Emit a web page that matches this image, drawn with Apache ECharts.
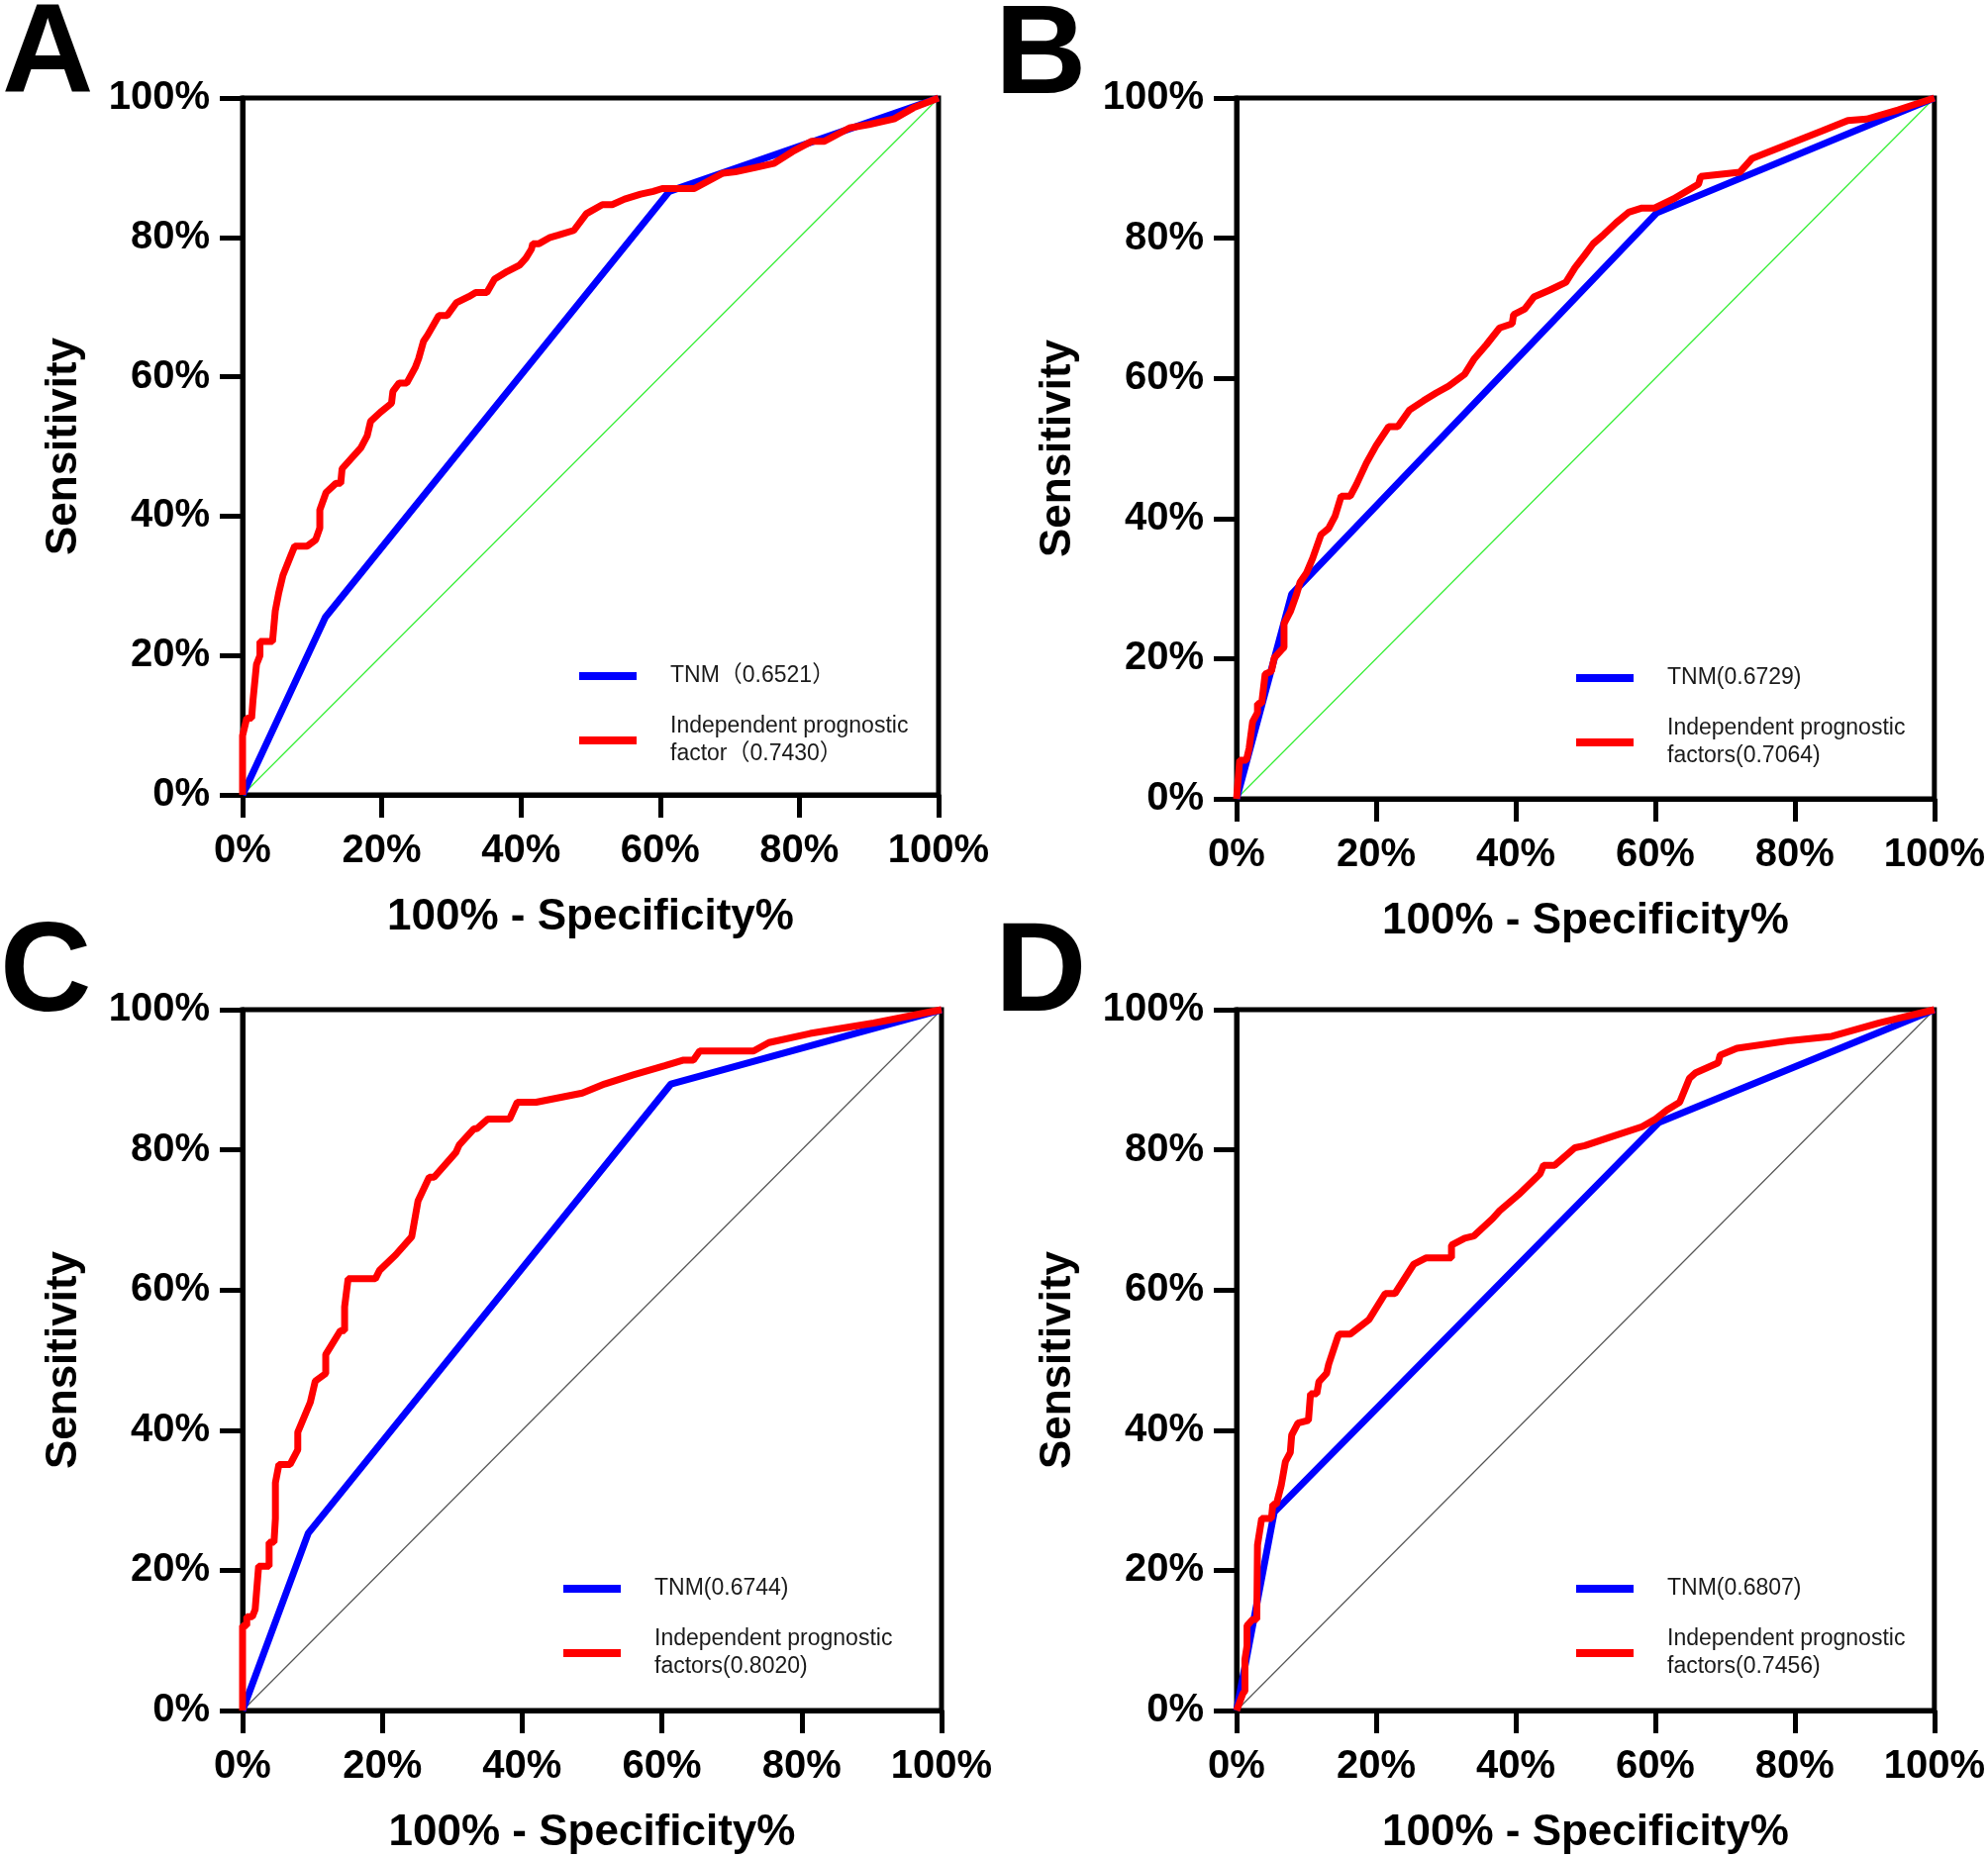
<!DOCTYPE html>
<html><head><meta charset="utf-8">
<script src="https://cdn.jsdelivr.net/npm/echarts@6/dist/echarts.min.js"></script>
<style>html,body{margin:0;padding:0;background:#fff}#c{width:2008px;height:1877px}</style>
</head><body><div id="c"></div>
<script>
// ---------- data (percent) ----------
const tickLabels = ['0%', '20%', '40%', '60%', '80%', '100%'];
const panelLetters = ['A', 'B', 'C', 'D'];
const xTitle = '100% - Specificity%';
const yTitle = 'Sensitivity';

const tnmNames = ['TNM（0.6521）', 'TNM(0.6729)', 'TNM(0.6744)', 'TNM(0.6807)'];
const ipfNames = ['Independent prognostic\nfactor（0.7430）', 'Independent prognostic\nfactors(0.7064)',
  'Independent prognostic\nfactors(0.8020)', 'Independent prognostic\nfactors(0.7456)'];

const refLine = [[0, 0], [100, 100]];

const aTnm = [[0, 0], [11.9, 25.5], [61.3, 86.6], [100, 100]];
const bTnm = [[0, 0], [7.9, 29.2], [60.2, 83.6], [100, 100]];
const cTnm = [[0, 0], [9.4, 25.3], [61.3, 89.4], [100, 100]];
const dTnm = [[0, 0], [5.4, 28.3], [60.5, 83.9], [100, 100]];

const aIpf = [[0, 0], [0, 8.5], [0.6, 11], [1.3, 11], [1.5, 13.6], [2, 18.7], [2.5, 20], [2.5, 22], [4.3, 22],
  [4.7, 26.4], [5.2, 29], [5.8, 31.5], [7, 34.5], [7.5, 35.7], [9.3, 35.7], [10.5, 36.6], [11.1, 38.3],
  [11.1, 40.9], [12, 43.4], [13.4, 44.7], [14.1, 44.7], [14.3, 46.8], [17, 49.8], [17.9, 51.5], [18.4, 53.6],
  [19.8, 54.9], [21.4, 56.2], [21.6, 57.9], [22.5, 59.1], [23.6, 59.1], [24.8, 61.3], [25.3, 62.6], [26, 65.1],
  [26.6, 66], [28.2, 68.8], [29.4, 68.8], [30.7, 70.6], [32.5, 71.5], [33.5, 72.1], [35.1, 72.1], [36.2, 74],
  [38, 75.1], [39.8, 76], [40.7, 77], [41.5, 78.3], [41.7, 79.1], [42.6, 79.1], [44.2, 80], [45.3, 80.3],
  [47.6, 81], [49.4, 83.4], [51.7, 84.7], [53.1, 84.7], [54.9, 85.5], [57.2, 86.2], [59, 86.6], [60.3, 87],
  [64.9, 87], [69, 89.2], [70.8, 89.4], [73.6, 90], [76.3, 90.6], [79, 92.3], [81.8, 93.8], [83.6, 93.8],
  [87.2, 95.7], [90, 96.2], [93.6, 97], [96.4, 98.6], [100, 100]];

const bIpf = [[0, 0], [0.45, 5.5], [1.4, 5.5], [1.8, 7.2], [2.3, 11], [3, 12.3], [3, 13.6], [3.6, 13.6],
  [4.1, 17.8], [5, 18.2], [5.4, 20.1], [6.4, 21.2], [6.8, 21.6], [6.8, 25], [7.7, 26.7], [8.6, 29.2],
  [9.1, 30.9], [10, 32.2], [10.9, 34.3], [12.1, 37.7], [13.2, 38.6], [14.1, 40.3], [15, 43.2], [16.3, 43.2],
  [17.2, 44.9], [18.6, 47.9], [20, 50.4], [21.8, 53.1], [23.1, 53.1], [24.8, 55.5], [26.8, 56.8], [28.6, 57.9],
  [30.4, 58.9], [32.7, 60.6], [34, 62.7], [35.8, 64.8], [37.7, 67.2], [39.5, 67.8], [39.7, 69.1], [41.3, 69.9],
  [42.6, 71.6], [44.9, 72.6], [47.2, 73.7], [48.5, 75.8], [49.9, 77.6], [51.1, 79.2], [52.6, 80.5],
  [54.4, 82.2], [56.2, 83.7], [58.1, 84.3], [59.9, 84.3], [62.6, 85.6], [66.2, 87.7], [66.5, 88.8],
  [72.1, 89.4], [73.9, 91.4], [78.5, 93.2], [83.9, 95.3], [87.6, 96.8], [90.3, 97], [94.8, 98.3], [100, 100]];

const cIpf = [[0, 0], [0, 12.1], [0.6, 12.1], [0.6, 13.4], [1.4, 13.4], [1.8, 14.4], [2.3, 20.6], [3.8, 20.6],
  [3.8, 24], [4.5, 24], [4.7, 27.4], [4.7, 32.5], [5.2, 35.1], [6.8, 35.1], [7.9, 37.2], [7.9, 39.7],
  [9.7, 44], [10.4, 47], [11.9, 48.1], [11.9, 50.8], [14, 54.2], [14.6, 54.2], [14.6, 57.6], [15.1, 61.6],
  [19, 61.6], [19.6, 62.8], [21.9, 65], [24.2, 67.6], [25.1, 72.7], [26.7, 76.1], [27.4, 76.1], [30.5, 79.6],
  [31, 80.7], [33.1, 83], [33.5, 83], [35.1, 84.4], [38.2, 84.4], [39.3, 86.8], [42, 86.8], [48.6, 88.1],
  [51.8, 89.4], [55.9, 90.7], [60.4, 92], [63.1, 92.8], [64.5, 92.8], [65.4, 94.1], [73.1, 94.1],
  [75.3, 95.3], [81.2, 96.6], [90.3, 98.1], [100, 100]];

const dIpf = [[0, 0], [0.9, 2.4], [1.2, 2.8], [1.2, 7.3], [1.5, 9.2], [1.5, 12.1], [2.3, 13], [2.9, 13],
  [3, 23.6], [3.6, 27.4], [5, 27.4], [5.2, 29.4], [5.7, 29.4], [6.4, 32.1], [7, 35.5], [7.7, 36.8],
  [7.9, 39.3], [8.8, 41], [10.3, 41.4], [10.6, 45.2], [11.5, 45.2], [11.8, 46.9], [12.9, 48.1], [13.2, 49.4],
  [14.5, 53.3], [14.7, 53.7], [16.3, 53.7], [19, 55.8], [21.3, 59.5], [22.7, 59.5], [25.4, 63.7],
  [27.2, 64.6], [30.8, 64.6], [30.8, 66.4], [32.7, 67.4], [34, 67.7], [36.7, 70.2], [37.7, 71.3],
  [40.4, 73.6], [43.5, 76.6], [44, 77.8], [45.6, 77.8], [48.5, 80.3], [49.9, 80.6], [53.5, 81.8],
  [58.1, 83.3], [59.9, 84.3], [61.7, 85.7], [63.5, 86.8], [64.9, 90.2], [65.8, 91], [69, 92.4],
  [69.3, 93.5], [71.7, 94.5], [79.4, 95.6], [85.3, 96.2], [92.1, 98.1], [100, 100]];

const tnmData = [aTnm, bTnm, cTnm, dTnm];
const ipfData = [aIpf, bIpf, cIpf, dIpf];
const refColors = ['#33ee33', '#33ee33', '#555555', '#555555'];

// ---------- layout ----------
const grids = [
  {left: 245, top: 99, width: 703, height: 704},
  {left: 1249, top: 99, width: 709, height: 708},
  {left: 245, top: 1020, width: 706, height: 708},
  {left: 1249, top: 1020, width: 709, height: 708}
];
const legendPos = [
  {left: 585, top: 669},
  {left: 1592, top: 671},
  {left: 569, top: 1591},
  {left: 1592, top: 1591}
];
const letterPos = [[2, 58], [1005, 59], [0, 986], [1005, 986]];

const FONT = '"Liberation Sans", Arial, "Noto Sans CJK SC", sans-serif';

const chart = echarts.init(document.getElementById('c'), null, {renderer: 'canvas'});

const option = {
  backgroundColor: '#fff',
  animation: false,
  grid: [], xAxis: [], yAxis: [], series: [], legend: [], graphic: []
};

function axisCommon() {
  return {
    type: 'value', min: 0, max: 100, interval: 20,
    axisLine: {show: true, lineStyle: {color: '#000', width: 5}},
    axisTick: {show: true, inside: false, length: 23, lineStyle: {color: '#000', width: 5}},
    splitLine: {show: false},
    axisLabel: {
      color: '#000', fontSize: 40, fontWeight: 'bold', fontFamily: FONT,
      formatter: v => tickLabels[Math.round(v / 20)]
    },
    nameLocation: 'middle',
    nameTextStyle: {color: '#000', fontSize: 44, fontWeight: 'bold', fontFamily: FONT}
  };
}

for (let i = 0; i < 4; i++) {
  option.grid.push(Object.assign({show: true, borderColor: '#000', borderWidth: 5, backgroundColor: 'transparent'}, grids[i]));
  const xa = axisCommon();
  xa.gridIndex = i; xa.name = xTitle; xa.nameGap = 102; xa.axisLabel.margin = 37;
  option.xAxis.push(xa);
  const ya = axisCommon();
  ya.gridIndex = i; ya.name = yTitle; ya.nameGap = 158; ya.nameRotate = 90; ya.axisLabel.margin = 33;
  option.yAxis.push(ya);

  option.series.push({
    type: 'line', xAxisIndex: i, yAxisIndex: i, data: refLine, showSymbol: false, symbol: 'none',
    lineStyle: {color: refColors[i], width: 1.2}, silent: true, z: 1
  });
  option.series.push({
    name: tnmNames[i], type: 'line', xAxisIndex: i, yAxisIndex: i, data: tnmData[i], symbol: 'none',
    clip: false, color: '#0000ff', lineStyle: {color: '#0000ff', width: 7}, z: 2
  });
  option.series.push({
    name: ipfNames[i], type: 'line', xAxisIndex: i, yAxisIndex: i, data: ipfData[i], symbol: 'none',
    clip: false, color: '#ff0000', lineStyle: {color: '#ff0000', width: 7}, z: 3
  });

  option.legend.push({
    data: [tnmNames[i], ipfNames[i]],
    orient: 'vertical', left: legendPos[i].left, top: legendPos[i].top,
    padding: 0, itemGap: 23, itemWidth: 58, itemHeight: 8, icon: 'rect',
    selectedMode: false,
    textStyle: {color: '#1a1a1a', fontSize: 23, lineHeight: 28, fontFamily: FONT, padding: [0, 0, 0, 29]}
  });

  option.graphic.push({
    type: 'text', left: letterPos[i][0], top: letterPos[i][1] - 64,
    style: {text: panelLetters[i], font: 'bold 128px ' + FONT, fill: '#000'}
  });
}

chart.setOption(option);
</script>
</body></html>
